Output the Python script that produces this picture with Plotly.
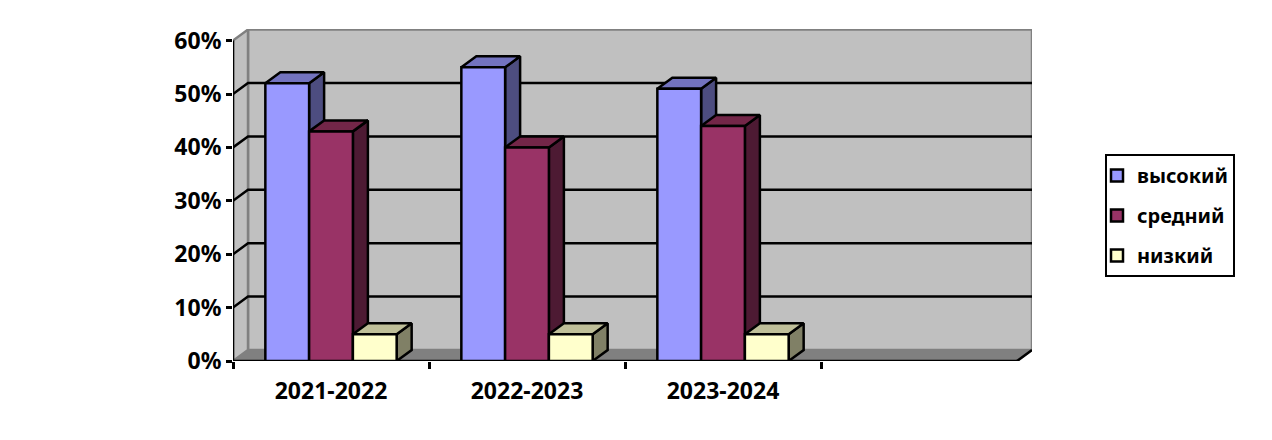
import plotly.graph_objects as go

categories = ["2021-2022", "2022-2023", "2023-2024", ""]
series_names = ["высокий", "средний", "низкий"]
vysokiy = [52, 55, 51]
sredniy = [43, 40, 44]
nizkiy = [5, 5, 5]
series_values = [vysokiy, sredniy, nizkiy]
y_ticks = [0, 10, 20, 30, 40, 50, 60]
y_tick_labels = ["0%", "10%", "20%", "30%", "40%", "50%", "60%"]

front_colors = ["#9999FF", "#993366", "#FFFFCC"]
top_colors = ["#7373BF", "#732648", "#BFBF99"]
side_colors = ["#4D4D80", "#4D1A33", "#808066"]

PAGE = 8  # the page's own margin around the figure
FIG_W, FIG_H = 1272 - 2 * PAGE, 440 - 2 * PAGE
PX_CAT = 196.0
PX_PCT = 5.34
L, R, T, B = 233 - PAGE, 1032 - PAGE, 29 - PAGE, 361 - PAGE
DX = 15 / PX_CAT
DY = 11 / PX_PCT
XMAX = (R - L) / PX_CAT
YMAX = (B - T) / PX_PCT
NCAT = len(categories)
GAP = 0.33
W = (1 - GAP) / 3
BLACK = "#000000"
GREY = "#808080"
WALL = "#C0C0C0"
LW = 2.5
FONT = dict(family="Noto Sans", size=23, color="#000000", weight=700)
LEGEND_FONT = dict(family="Noto Sans", size=20, color="#000000", weight=700)

fig = go.Figure()


def poly(xs, ys, fill, line=None, width=LW):
    fig.add_trace(go.Scatter(
        x=xs, y=ys, mode="lines", fill="toself", fillcolor=fill,
        line=dict(color=line or fill, width=width), showlegend=False,
        hoverinfo="skip", cliponaxis=False))


def seg(xs, ys, color=BLACK, width=LW):
    fig.add_trace(go.Scatter(
        x=xs, y=ys, mode="lines", line=dict(color=color, width=width),
        showlegend=False, hoverinfo="skip", cliponaxis=False))


top = y_ticks[-1]
# floor, back wall, side wall
poly([0, NCAT, NCAT + DX, DX, 0], [0, 0, DY, DY, 0], GREY)
poly([DX, NCAT + DX, NCAT + DX, DX, DX], [DY, DY, top + DY, top + DY, DY], WALL, GREY, 2.5)
poly([0, DX, DX, 0, 0], [0, DY, top + DY, top, 0], WALL, GREY, 2.5)

# gridlines wrapping from the side wall to the back wall
for v in y_ticks[1:-1]:
    seg([0, DX, NCAT + DX], [v, v + DY, v + DY])
seg([NCAT, NCAT + DX], [0, DY])
seg([0, 0], [0, top])
seg([0, NCAT], [0, 0])

# depth faces, left to right
for c in range(3):
    for s, vals in enumerate(series_values):
        x0 = c + 0.5 - 1.5 * W + s * W
        x1 = x0 + W
        v = vals[c]
        poly([x1, x1 + DX, x1 + DX, x1, x1], [0, DY, v + DY, v, 0], side_colors[s], BLACK)
        poly([x0, x0 + DX, x1 + DX, x1, x0], [v, v + DY, v + DY, v, v], top_colors[s], BLACK)

# front faces on an overlaid pair of axes
for s, vals in enumerate(series_values):
    fig.add_trace(go.Bar(
        x=[i + 0.5 for i in range(3)], y=vals, name=series_names[s],
        xaxis="x2", yaxis="y2", legendgroup=series_names[s],
        marker=dict(color=front_colors[s], line=dict(color=BLACK, width=LW)),
        cliponaxis=False))

fig.update_layout(
    width=FIG_W, height=FIG_H, autosize=False,
    margin=dict(l=L, r=FIG_W - R, t=T, b=FIG_H - B, autoexpand=False),
    paper_bgcolor="white", plot_bgcolor="white",
    barmode="group", bargap=GAP, bargroupgap=0,
    xaxis=dict(range=[0, XMAX], tickvals=[i + 0.5 for i in range(NCAT)], ticktext=categories,
               ticks="", showgrid=False, zeroline=False, showline=False,
               tickfont=FONT, ticklabelstandoff=14),
    yaxis=dict(range=[0, YMAX], tickvals=y_ticks, ticktext=y_tick_labels, ticks="outside",
               ticklen=6, tickwidth=2.5, tickcolor=BLACK, showgrid=False, zeroline=False,
               showline=False, tickfont=FONT),
    xaxis2=dict(range=[0, XMAX], overlaying="x", anchor="y2", tickvals=list(range(NCAT)),
                showticklabels=False, ticks="outside", ticklen=7, tickwidth=2.5,
                tickcolor=BLACK, showgrid=False, zeroline=False, showline=False),
    yaxis2=dict(range=[0, YMAX], overlaying="y", anchor="x2", visible=False),
    showlegend=True,
    legend=dict(x=(1105 - PAGE - L) / (R - L), xanchor="left",
                y=1 - (154 - PAGE - T) / (B - T), yanchor="top",
                bgcolor="white", bordercolor=BLACK, borderwidth=2, font=LEGEND_FONT,
                traceorder="grouped", tracegroupgap=11, itemwidth=30, indentation=-10),
)
fig.write_html("out.html")
